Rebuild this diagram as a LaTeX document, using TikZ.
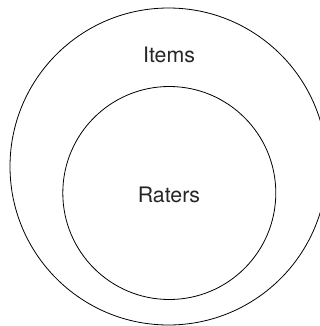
\documentclass[tikz,border=0pt]{standalone}
\usepackage{fontspec}
\setmainfont{TeX Gyre Heros}
\usetikzlibrary{positioning}

\begin{document}
\begin{tikzpicture}[x=0.75pt,y=-0.75pt,line cap=round,line join=round]
\path[use as bounding box] (0,0) rectangle (320,326);
\tikzset{ring/.style={draw=black,circle,inner sep=0pt,outer sep=0pt,line width=.6pt},
  setname/.style={font=\fontsize{16}{19}\selectfont,text=black!85,inner sep=0pt}}
\node[ring,minimum size=237.75pt] (items) at (168.5,166.5) {};
\node[ring,minimum size=159.75pt] (raters) at (169.3,193.0) {};
\node[setname] (itemslabel) at (169.0,55.0) {Items};
\node[setname] (raterslabel) at (169.0,194.5) {Raters};
\end{tikzpicture}
\end{document}
